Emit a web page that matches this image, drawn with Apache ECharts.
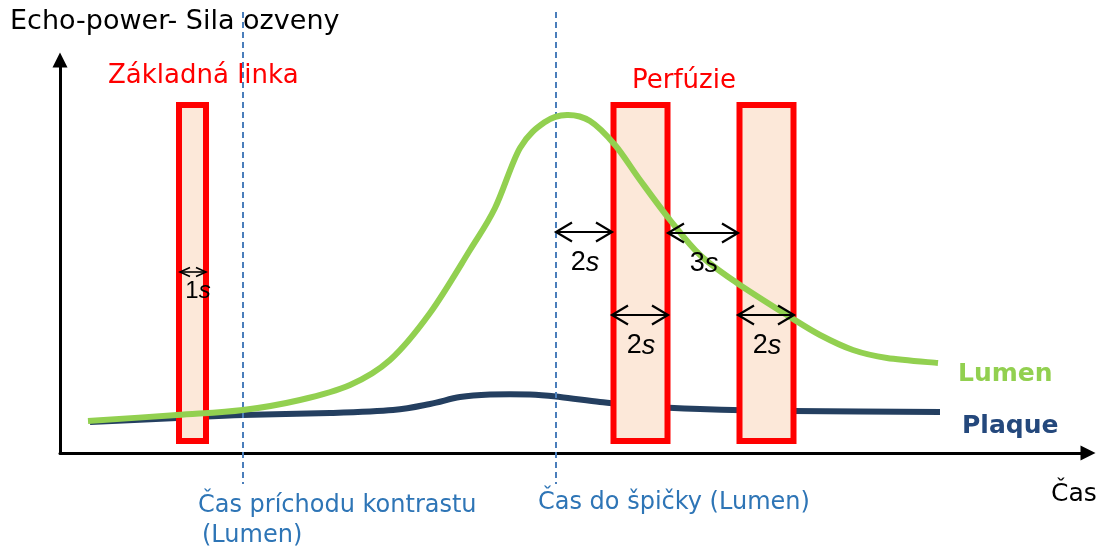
<!DOCTYPE html>
<html>
<head>
<meta charset="utf-8">
<script src="https://cdn.jsdelivr.net/npm/echarts@6/dist/echarts.min.js"></script>
<style>
  html, body { margin: 0; padding: 0; background: #fff; }
  #chart { width: 1104px; height: 546px; }
</style>
</head>
<body>
<div id="chart"></div>
<script>
// Echo power over time (arbitrary units) for the lumen and the plaque
const lumenTime   = [28, 117, 183, 240, 290, 330, 370, 410, 435, 460, 485, 507, 530, 555, 580, 610, 640, 677, 730, 760, 793, 827, 878];
const lumenPower  = [32, 38, 43, 53, 68, 93, 140, 203, 245, 305, 331, 338, 332, 308, 273, 233, 198, 170, 136, 118, 103, 95, 90];
const plaqueTime  = [30, 117, 183, 270, 333, 370, 400, 430, 470, 500, 540, 580, 640, 733, 880];
const plaquePower = [31, 35, 38, 40, 43, 49, 56, 58.5, 58.5, 56, 51, 47, 44, 42, 41];

// Measurement windows [start, end]
const baselineWindows  = [[119, 146]];
const perfusionWindows = [[553.5, 607.5], [679.5, 733.5]];

// Marker times: contrast arrival and time to peak (lumen)
const markerTimes = [183, 496];

// Interval arrows [start, end, level] and their durations in seconds
const intervalSpans  = [[120, 146, 181], [496, 552, 221], [608, 678, 220], [552, 608, 138], [678, 734, 138]];
const intervalLabels = ['1', '2', '3', '2', '2'];

const TIME_MAX = 1028;
const POWER_MAX = 393;

const chart = echarts.init(document.getElementById('chart'), null, { renderer: 'canvas' });

const windowFill = '#FCE8D9';
const windowStroke = '#FF0000';

// Catmull-Rom spline through pixel points, written as an SVG path
function splinePath(pts) {
  let d = 'M' + pts[0][0] + ' ' + pts[0][1];
  for (let i = 0; i < pts.length - 1; i++) {
    const p0 = pts[i - 1] || pts[i];
    const p1 = pts[i];
    const p2 = pts[i + 1];
    const p3 = pts[i + 2] || p2;
    const c1x = p1[0] + (p2[0] - p0[0]) / 6, c1y = p1[1] + (p2[1] - p0[1]) / 6;
    const c2x = p2[0] - (p3[0] - p1[0]) / 6, c2y = p2[1] - (p3[1] - p1[1]) / 6;
    d += ' C' + c1x + ' ' + c1y + ' ' + c2x + ' ' + c2y + ' ' + p2[0] + ' ' + p2[1];
  }
  return d;
}

function curveRenderer(color, labelText, labelColor, gap, drop) {
  return function (params, api) {
    if (params.dataIndex !== 0) return null;
    const n = params.dataInsideLength;
    const pts = [];
    for (let i = 0; i < n; i++) {
      pts.push(api.coord([api.value(0, i), api.value(1, i)]));
    }
    const last = pts[pts.length - 1];
    return {
      type: 'group',
      children: [
        {
          type: 'path',
          shape: { pathData: splinePath(pts) },
          style: { fill: null, stroke: color, lineWidth: 6 }
        },
        {
          type: 'text', x: last[0] + gap, y: last[1] + drop,
          style: {
            text: labelText, fill: labelColor,
            font: 'bold 25px "DejaVu Sans"',
            align: 'left', verticalAlign: 'middle', textAlign: 'left', textVerticalAlign: 'middle'
          }
        }
      ]
    };
  };
}

function renderWindow(params, api) {
  const p0 = api.coord([api.value(0), 12]);
  const p1 = api.coord([api.value(1), 348]);
  return {
    type: 'rect',
    shape: { x: p0[0], y: p1[1], width: p1[0] - p0[0], height: p0[1] - p1[1] },
    style: { fill: windowFill, stroke: windowStroke, lineWidth: 6 }
  };
}

function renderMarker(params, api) {
  const top = api.coord([api.value(0), 441]);
  const bottom = api.coord([api.value(0), -31]);
  return {
    type: 'line',
    shape: { x1: top[0], y1: top[1], x2: bottom[0], y2: bottom[1] },
    style: { stroke: '#4A7EBB', lineWidth: 2, lineDash: [6, 4] }
  };
}

function renderInterval(params, api) {
  const a = api.coord([api.value(0), api.value(2)]);
  const b = api.coord([api.value(1), api.value(2)]);
  const short = (b[0] - a[0]) < 40;
  const hl = short ? 10 : 16;
  const hw = short ? 4.5 : 9.5;
  const lw = short ? 1.6 : 2.2;
  const fs = short ? 24 : 27;
  const y = a[1];
  const stroke = { stroke: '#000', lineWidth: lw, fill: null };
  const label = intervalLabels[params.dataIndex];
  return {
    type: 'group',
    children: [
      { type: 'line', shape: { x1: a[0], y1: y, x2: b[0], y2: y }, style: stroke },
      { type: 'polyline', shape: { points: [[a[0] + hl, y - hw], [a[0], y], [a[0] + hl, y + hw]] }, style: stroke },
      { type: 'polyline', shape: { points: [[b[0] - hl, y - hw], [b[0], y], [b[0] - hl, y + hw]] }, style: stroke },
      {
        type: 'text',
        x: (a[0] + b[0]) / 2 + (short ? 5 : 1),
        y: y + (short ? 19 : 31),
        style: {
          text: '{n|' + label + '}{i|s}',
          align: 'center', verticalAlign: 'middle',
          textAlign: 'center', textVerticalAlign: 'middle',
          rich: {
            n: { fontSize: fs, fontFamily: 'Liberation Sans', color: '#000', fill: '#000' },
            i: { fontSize: fs, fontFamily: 'Liberation Sans', fontStyle: 'italic', color: '#000', fill: '#000' }
          }
        }
      }
    ]
  };
}

function textEl(text, x, y, font, fill) {
  return {
    type: 'text', x: x, y: y, z: 10,
    style: { text: text, font: font, fill: fill, align: 'left', verticalAlign: 'middle', textAlign: 'left', textVerticalAlign: 'middle' }
  };
}

const axisLine = { show: true, symbol: ['none', 'triangle'], symbolSize: [15, 15], lineStyle: { color: '#000', width: 3 } };

const option = {
  animation: false,
  backgroundColor: '#fff',
  grid: { left: 60, top: 60, width: TIME_MAX, height: POWER_MAX, containLabel: false },
  xAxis: {
    type: 'value', min: 0, max: TIME_MAX, axisLine: axisLine,
    axisTick: { show: false }, axisLabel: { show: false }, splitLine: { show: false }
  },
  yAxis: {
    type: 'value', min: 0, max: POWER_MAX, axisLine: axisLine,
    axisTick: { show: false }, axisLabel: { show: false }, splitLine: { show: false }
  },
  series: [
    {
      name: 'Plaque', type: 'custom', z: 1, clip: false,
      renderItem: curveRenderer('#243F60', 'Plaque', '#24487C', 22, 14),
      data: plaqueTime.map((t, i) => [t, plaquePower[i]])
    },
    {
      name: 'windows', type: 'custom', z: 2, clip: false,
      renderItem: renderWindow,
      data: baselineWindows.concat(perfusionWindows)
    },
    {
      name: 'markers', type: 'custom', z: 2, clip: false,
      renderItem: renderMarker,
      data: markerTimes.map(t => [t])
    },
    {
      name: 'Lumen', type: 'custom', z: 3, clip: false,
      renderItem: curveRenderer('#92D050', 'Lumen', '#92D050', 20, 11),
      data: lumenTime.map((t, i) => [t, lumenPower[i]])
    },
    {
      name: 'intervals', type: 'custom', z: 4, clip: false,
      renderItem: renderInterval,
      data: intervalSpans
    }
  ],
  graphic: [
    textEl('Echo-power- Sila ozveny', 10, 22, '27px "DejaVu Sans"', '#000'),
    textEl('Základná linka', 108, 76, '26px "DejaVu Sans"', '#FF0000'),
    textEl('Perfúzie', 632, 81, '26px "DejaVu Sans"', '#FF0000'),
    textEl('Čas', 1051, 494, '25px "DejaVu Sans"', '#000'),
    textEl('Čas príchodu kontrastu', 198, 506, '24px "DejaVu Sans"', '#2E75B6'),
    textEl('(Lumen)', 202, 536, '24px "DejaVu Sans"', '#2E75B6'),
    textEl('Čas do špičky (Lumen)', 538, 503, '24px "DejaVu Sans"', '#2E75B6')
  ]
};

chart.setOption(option);
</script>
</body>
</html>
